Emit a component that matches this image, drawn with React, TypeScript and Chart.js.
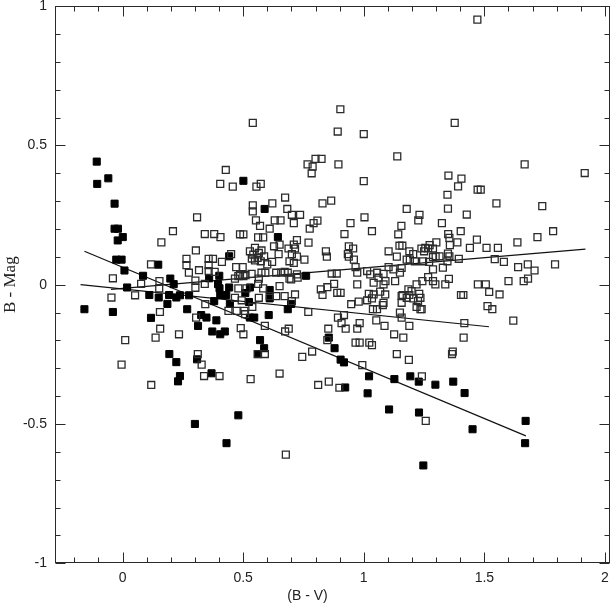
import React, { useEffect, useRef } from 'react';
import { Chart, registerables } from 'chart.js';

Chart.register(...registerables);

// (B - V, B - Mag) pairs, filled squares
const filledStars: [number, number][] = [
  [-0.158,-0.088],[-0.107,0.442],[-0.105,0.362],[-0.059,0.382],[-0.033,0.291],[-0.033,0.201],[-0.019,0.201],
  [-0.020,0.159],[0.001,0.171],[-0.026,0.090],[-0.004,0.090],[0.008,0.051],[-0.040,-0.098],[0.019,-0.010],
  [0.085,0.032],[0.148,0.072],[0.111,-0.037],[0.150,-0.046],[0.118,-0.119],[0.186,-0.069],[0.198,0.022],
  [0.212,0.002],[0.193,-0.037],[0.223,-0.046],[0.238,-0.038],[0.276,-0.038],[0.268,-0.088],[0.194,-0.249],
  [0.223,-0.278],[0.238,-0.328],[0.230,-0.347],[0.309,-0.268],[0.313,-0.148],[0.300,-0.500],[0.326,-0.109],
  [0.348,-0.118],[0.359,0.023],[0.369,-0.318],[0.372,-0.168],[0.380,-0.059],[0.389,-0.128],[0.401,0.032],
  [0.396,0.002],[0.402,-0.013],[0.405,-0.037],[0.405,-0.178],[0.424,-0.168],[0.430,-0.037],[0.442,-0.010],
  [0.445,-0.069],[0.442,0.102],[0.480,-0.469],[0.431,-0.569],[0.501,0.373],[0.509,-0.030],[0.528,-0.010],
  [0.524,-0.062],[0.528,-0.118],[0.546,-0.118],[0.570,-0.199],[0.562,-0.249],[0.587,-0.228],[0.589,0.272],
  [0.644,0.171],[0.610,-0.019],[0.610,-0.049],[0.606,-0.109],[0.685,-0.088],[0.699,-0.069],[0.761,0.032],
  [0.855,-0.190],[0.879,-0.228],[0.904,-0.269],[0.918,-0.279],[0.923,-0.369],[1.022,-0.329],[1.016,-0.390],
  [1.105,-0.448],[1.127,-0.339],[1.193,-0.329],[1.228,-0.348],[1.297,-0.359],[1.371,-0.348],[1.418,-0.389],
  [1.229,-0.459],[1.247,-0.649],[1.451,-0.519],[1.671,-0.489],[1.669,-0.569],
];

// open squares
const openStars: [number, number][] = [
  [1.471,0.952],[0.903,0.630],[0.540,0.581],[0.892,0.550],[1.000,0.541],[1.377,0.581],[1.139,0.461],
  [0.800,0.452],[0.825,0.452],[0.767,0.432],[0.788,0.424],[0.784,0.400],[0.895,0.432],[1.000,0.372],
  [0.428,0.412],[0.405,0.362],[0.457,0.352],[0.573,0.362],[0.555,0.352],[1.351,0.392],[1.405,0.381],
  [1.391,0.353],[1.472,0.341],[1.485,0.341],[1.347,0.323],[1.667,0.432],[1.916,0.401],[1.550,0.292],
  [1.740,0.282],[1.349,0.273],[1.178,0.272],[1.231,0.251],[1.226,0.231],[1.427,0.252],[1.324,0.221],
  [0.674,0.313],[0.621,0.292],[0.540,0.285],[0.540,0.263],[0.683,0.272],[0.829,0.292],[0.865,0.302],
  [0.702,0.251],[0.736,0.251],[0.710,0.221],[0.808,0.230],[0.792,0.221],[0.631,0.231],[0.655,0.231],
  [0.553,0.231],[0.570,0.211],[0.776,0.201],[0.610,0.201],[0.945,0.221],[1.003,0.242],[1.034,0.192],
  [0.920,0.182],[1.156,0.211],[1.143,0.181],[0.487,0.181],[0.501,0.181],[0.562,0.170],[0.583,0.170],
  [0.723,0.160],[0.771,0.151],[0.309,0.242],[0.209,0.192],[0.341,0.182],[0.380,0.182],[0.406,0.171],
  [0.161,0.152],[1.402,0.192],[1.785,0.192],[1.720,0.171],[1.350,0.182],[1.355,0.168],[1.469,0.162],
  [1.388,0.152],[1.357,0.142],[1.637,0.152],
  [1.301,0.152],[1.273,0.142],[1.255,0.132],[1.440,0.132],[1.509,0.132],[1.556,0.132],[1.349,0.112],
  [1.355,0.102],[1.314,0.102],[1.543,0.092],[1.581,0.082],[1.640,0.063],[1.680,0.073],[1.708,0.051],
  [1.793,0.073],[1.328,0.061],[1.394,0.093],[1.347,0.084],
  [0.647,0.110],[0.688,0.130],[0.715,0.130],[0.702,0.110],[0.723,0.101],[0.754,0.090],[0.628,0.138],
  [0.651,0.144],[0.843,0.120],[0.847,0.101],[0.938,0.138],[0.956,0.130],[0.934,0.110],[0.938,0.101],
  [0.959,0.090],[1.103,0.120],[1.148,0.140],[1.160,0.140],[1.137,0.101],[1.189,0.120],[1.205,0.110],
  [1.178,0.090],[1.191,0.090],[1.239,0.130],[1.250,0.120],[1.267,0.130],[1.287,0.130],[1.298,0.102],
  [1.287,0.055],[1.212,0.084],[1.246,0.084],[1.271,0.082],[1.287,0.099],
  [0.549,0.132],[0.565,0.114],[0.576,0.123],[0.542,0.108],[0.560,0.096],[0.573,0.084],[0.587,0.102],
  [0.549,0.087],[0.600,0.073],[0.620,0.082],[0.710,0.144],[0.710,0.078],[0.692,0.084],[0.528,0.120],
  [0.536,0.094],
  [0.304,0.123],[0.265,0.093],[0.265,0.070],[0.357,0.093],[0.375,0.093],[0.412,0.082],[0.357,0.070],
  [0.450,0.110],[0.118,0.073],[0.317,0.052],[0.275,0.043],[0.471,0.063],[0.498,0.063],
  [-0.040,0.023],[0.077,0.003],[-0.046,-0.046],[0.052,-0.038],[0.153,0.013],[0.152,-0.013],[0.302,0.015],
  [0.302,-0.011],[0.341,0.003],[0.382,0.046],[0.357,0.049],[0.480,0.031],[0.501,0.031],[0.466,0.022],
  [0.487,0.034],[0.510,0.034],[0.535,0.039],[0.576,0.043],[0.592,0.043],[0.565,0.022],[0.480,-0.013],
  [0.514,-0.013],[0.562,0.003],[0.466,-0.047],[0.494,-0.056],[0.505,-0.094],[0.538,-0.080],[0.565,-0.047],
  [0.583,-0.013],[0.610,-0.041],[0.637,0.043],[0.672,0.046],[0.692,0.022],[0.651,-0.005],[0.637,-0.041],
  [0.672,-0.041],[0.702,-0.059],[0.715,-0.035],[0.658,0.043],[0.685,0.043],[0.723,0.037],[0.699,0.019],
  [0.726,0.025],[0.867,0.040],[0.888,0.040],[0.966,0.063],[0.973,0.043],[1.014,0.049],[1.027,0.037],
  [1.055,0.043],[1.082,0.039],[1.061,0.025],[1.041,0.007],[1.082,0.001],[1.068,-0.025],[1.103,0.063],
  [1.123,0.055],[1.157,0.060],[1.150,0.043],[0.973,0.001],[1.041,-0.035],[1.089,-0.035],[0.890,-0.029],
  [0.904,-0.029],[0.822,-0.017],[0.849,-0.009],[0.829,-0.037],[1.219,0.001],[1.243,0.013],[1.267,0.027],
  [1.287,0.013],[1.230,-0.033],[1.185,-0.017],[1.189,-0.037],[1.161,-0.037],[1.130,0.013],[1.090,0.013],
  [0.877,0.003],[1.297,0.001],[1.338,0.001],[1.353,0.021],[1.473,0.001],[1.506,0.001],[1.600,0.013],
  [1.663,0.013],[1.681,0.022],[1.520,-0.026],[1.563,-0.035],[1.403,-0.037],[1.413,-0.037],[1.014,-0.056],
  [1.034,-0.049],[1.021,-0.033],[0.979,-0.061],[0.948,-0.070],[1.038,-0.088],[1.055,-0.088],[1.082,-0.065],
  [1.157,-0.041],[1.157,-0.065],[1.198,-0.023],[1.178,-0.047],[1.205,-0.049],[1.225,-0.059],[1.219,-0.080],
  [1.240,-0.088],[1.150,-0.100],[1.157,-0.118],[1.235,-0.047],[1.235,-0.088],[0.343,-0.070],[0.439,-0.094],
  [0.473,-0.094],[0.508,-0.106],[0.305,-0.118],[1.079,-0.073],
  [0.155,-0.098],[0.156,-0.158],[0.137,-0.190],[0.234,-0.178],[0.011,-0.199],[-0.004,-0.287],[0.119,-0.360],
  [0.312,-0.249],[0.328,-0.287],[0.338,-0.328],[0.402,-0.328],[0.490,-0.156],[0.501,-0.178],[0.531,-0.339],
  [0.651,-0.319],[0.745,-0.259],[0.786,-0.240],[0.811,-0.360],[0.855,-0.348],[0.899,-0.370],[0.994,-0.289],
  [0.849,-0.199],[0.853,-0.158],[0.674,-0.168],[0.689,-0.158],[0.770,-0.098],[0.893,-0.118],[0.918,-0.109],
  [0.925,-0.158],[0.908,-0.138],[0.973,-0.158],[0.983,-0.138],[0.966,-0.208],[0.983,-0.208],[1.023,-0.208],
  [1.034,-0.217],[1.052,-0.128],[1.086,-0.148],[1.126,-0.178],[1.164,-0.190],[1.137,-0.249],[1.187,-0.270],
  [1.241,-0.329],[1.257,-0.489],[0.560,-0.249],[0.590,-0.249],[0.590,-0.148],[1.189,-0.148],[1.513,-0.077],
  [1.533,-0.088],[1.620,-0.129],[1.417,-0.138],[1.414,-0.190],[1.369,-0.240],[1.366,-0.249],[0.677,-0.610],
];

// fitted lines: [x0, x1], [y0, y1]
const steepLineX = [-0.158, 1.672];
const steepLineY = [0.120, -0.543];
const flatLineX = [-0.174, 1.519];
const flatLineY = [0.0, -0.151];
const riseLineX = [-0.048, 1.919];
const riseLineY = [-0.017, 0.128];

const xTickValues = [0, 0.5, 1, 1.5, 2];
const yTickValues = [-1, -0.5, 0, 0.5, 1];
const X_MIN = -0.28, X_MAX = 2.02, Y_MIN = -1, Y_MAX = 1;
const MINOR_STEP = 0.1;

const toPts = (a: [number, number][]) => a.map(([x, y]) => ({ x, y }));
const linePts = (xs: number[], ys: number[]) => xs.map((x, i) => ({ x, y: ys[i] }));

const framePlugin = {
  id: 'frameTicks',
  afterDatasetsDraw(chart: any) {
    const { ctx, chartArea: a, scales } = chart;
    const xs = scales.x, ys = scales.y;
    ctx.save();
    ctx.strokeStyle = '#2a2a2a';
    ctx.lineWidth = 1;
    const L = Math.round(a.left) + 0.5, R = Math.round(a.right) - 0.5;
    const T = Math.round(a.top) + 0.5, B = Math.round(a.bottom) - 0.5;
    ctx.strokeRect(L, T, R - L, B - T);
    ctx.beginPath();
    const nx0 = Math.ceil(X_MIN / MINOR_STEP - 1e-9), nx1 = Math.floor(X_MAX / MINOR_STEP + 1e-9);
    for (let i = nx0; i <= nx1; i++) {
      const p = Math.round(xs.getPixelForValue(i * MINOR_STEP)) + 0.5;
      const len = i % 5 === 0 ? 10 : 5;
      ctx.moveTo(p, B); ctx.lineTo(p, B - len);
      ctx.moveTo(p, T); ctx.lineTo(p, T + len);
    }
    const ny0 = Math.ceil(Y_MIN / MINOR_STEP - 1e-9), ny1 = Math.floor(Y_MAX / MINOR_STEP + 1e-9);
    for (let i = ny0; i <= ny1; i++) {
      const p = Math.round(ys.getPixelForValue(i * MINOR_STEP)) + 0.5;
      const len = i % 5 === 0 ? 10 : 5;
      ctx.moveTo(L, p); ctx.lineTo(L + len, p);
      ctx.moveTo(R, p); ctx.lineTo(R - len, p);
    }
    ctx.stroke();
    ctx.restore();
  },
};

const sans = "'Liberation Sans', Arial, Helvetica, sans-serif";
const serif = "'Liberation Serif', 'Times New Roman', serif";

export default function App() {
  const ref = useRef<HTMLCanvasElement | null>(null);
  useEffect(() => {
    if (!ref.current) return;
    const lineDs = (xs: number[], ys: number[]) => ({
      type: 'scatter' as const,
      data: linePts(xs, ys),
      showLine: true,
      borderColor: '#111',
      borderWidth: 1.2,
      pointRadius: 0,
      fill: false,
    });
    const chart = new Chart(ref.current, {
      type: 'scatter',
      data: {
        datasets: [
          {
            data: toPts(openStars),
            pointStyle: 'rect',
            pointRadius: 4.9,
            backgroundColor: 'rgba(255,255,255,0)',
            borderColor: '#2b2b2b',
            borderWidth: 1.3,
          },
          {
            data: toPts(filledStars),
            pointStyle: 'rect',
            pointRadius: 5,
            backgroundColor: '#000',
            borderColor: '#000',
            borderWidth: 1,
          },
          lineDs(steepLineX, steepLineY),
          lineDs(flatLineX, flatLineY),
          lineDs(riseLineX, riseLineY),
        ] as any,
      },
      options: {
        animation: false,
        responsive: false,
        devicePixelRatio: 1,
        layout: { padding: { top: 4, right: 1, left: 0, bottom: 0 } },
        plugins: {
          legend: { display: false },
          tooltip: { enabled: false },
          title: {
            display: true,
            position: 'bottom',
            text: '(B - V)',
            color: '#222',
            font: { family: sans, size: 14, weight: 'normal' },
            padding: { top: 0, bottom: 1 },
          },
        },
        scales: {
          x: {
            type: 'linear',
            min: X_MIN,
            max: X_MAX,
            grid: { display: false, drawTicks: false },
            border: { display: false },
            afterBuildTicks: (s: any) => { s.ticks = xTickValues.map((v) => ({ value: v })); },
            afterFit: (s: any) => { s.height = 25; s.paddingLeft = 0; s.paddingRight = 0; },
            ticks: {
              padding: 7,
              maxRotation: 0,
              color: '#222',
              font: { family: sans, size: 14 },
              callback: (v: any) => String(v),
            },
          },
          y: {
            type: 'linear',
            min: Y_MIN,
            max: Y_MAX,
            grid: { display: false, drawTicks: false },
            border: { display: false },
            afterBuildTicks: (s: any) => { s.ticks = yTickValues.map((v) => ({ value: v })); },
            afterFit: (s: any) => { s.width = 55; s.paddingTop = 0; s.paddingBottom = 0; },
            ticks: {
              padding: 8,
              color: '#222',
              font: { family: sans, size: 14 },
              callback: (v: any) => String(v),
            },
            title: {
              display: true,
              text: 'B - Mag',
              color: '#222',
              font: { family: serif, size: 17 },
              padding: { top: 0, bottom: 0 },
            },
          },
        },
      },
      plugins: [framePlugin],
    });
    return () => chart.destroy();
  }, []);
  return (
    <div style={{ position: 'absolute', left: 0, top: 0, width: 616, height: 606, background: '#fff' }}>
      <canvas ref={ref} width={616} height={606} />
    </div>
  );
}
